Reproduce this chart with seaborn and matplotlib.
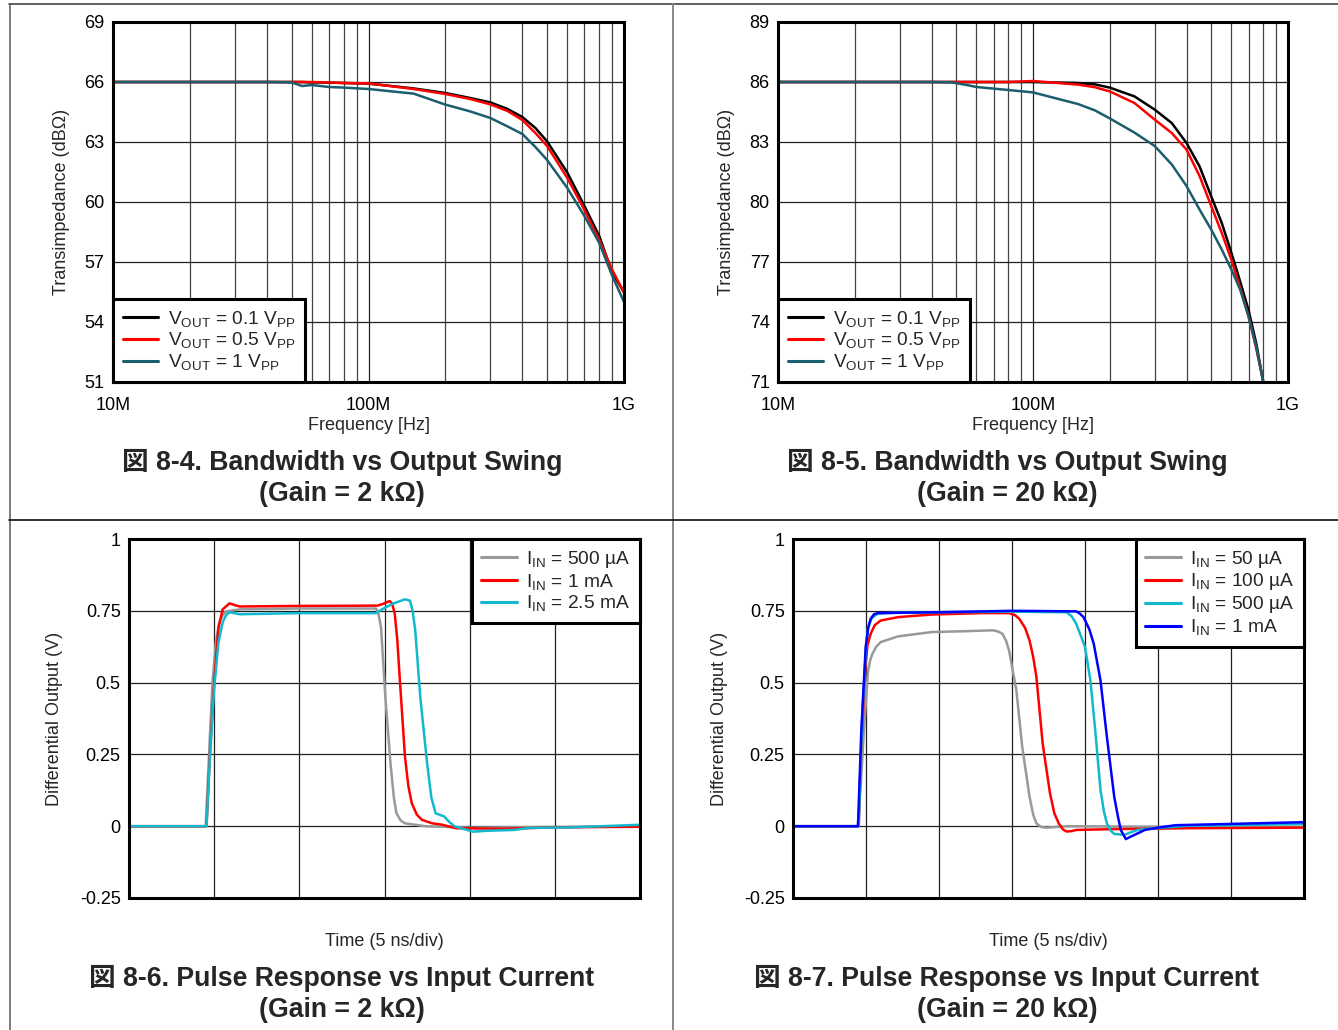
import numpy as np
import pandas as pd
import matplotlib
matplotlib.use("Agg")
import matplotlib.pyplot as plt
import seaborn as sns
from matplotlib.lines import Line2D
from matplotlib.ticker import LogLocator, NullFormatter, FixedLocator

# ---------------- data ----------------
# Panel 8-4 (Gain = 2 kOhm), frequency in MHz, transimpedance in dBOhm
freq_a = [10, 20, 30, 40, 50, 55, 60, 70, 80, 100, 150, 200, 250, 300, 350, 400, 450, 500, 600, 700, 800, 900, 1000]
zt_a_01 = [66, 66, 66, 66, 66, 66, 65.98, 65.97, 65.95, 65.92, 65.68, 65.45, 65.2, 64.98, 64.65, 64.25, 63.7, 63.03, 61.47, 59.8, 58.3, 56.45, 55.5]
zt_a_05 = [66, 66, 66, 66, 66, 66, 66.0, 65.98, 65.95, 65.93, 65.65, 65.4, 65.15, 64.88, 64.55, 64.1, 63.45, 62.8, 61.2, 59.6, 58.1, 56.6, 55.45]
zt_a_1 = [66, 66, 66, 66, 65.98, 65.8, 65.85, 65.75, 65.72, 65.65, 65.42, 64.87, 64.53, 64.2, 63.78, 63.4, 62.75, 62.1, 60.7, 59.3, 57.95, 56.3, 55.0]

# Panel 8-5 (Gain = 20 kOhm)
freq_b = [10, 20, 30, 40, 48, 55, 60, 70, 80, 100, 150, 175, 200, 250, 300, 350, 400, 450, 500, 550, 600, 650, 700, 750, 800]
zt_b_01 = [86, 86, 86, 86, 86, 86, 86, 86, 86, 86.0, 85.95, 85.88, 85.72, 85.28, 84.62, 83.95, 82.95, 81.78, 80.28, 78.95, 77.45, 76.0, 74.6, 72.95, 71.0]
zt_b_05 = [86, 86, 86, 86, 86, 86, 86, 86, 86, 86.05, 85.87, 85.74, 85.53, 84.95, 84.12, 83.45, 82.62, 81.3, 79.8, 78.45, 77.1, 75.7, 74.3, 72.7, 71.0]
zt_b_1 = [86, 86, 86, 86, 85.98, 85.85, 85.75, 85.67, 85.6, 85.48, 84.9, 84.58, 84.18, 83.47, 82.8, 81.88, 80.8, 79.62, 78.62, 77.62, 76.62, 75.6, 74.28, 72.78, 71.0]

freq_ticks = [10, 100, 1000]
freq_ticklabels = ["10M", "100M", "1G"]

# Panel 8-6 (Gain = 2 kOhm), time in ns, output in V
t_c_500u = [0, 4.5, 4.7, 4.9, 5.1, 5.3, 5.5, 5.7, 6.5, 10, 14.5, 14.65, 14.8, 15.05, 15.35, 15.55, 15.7, 15.95, 16.2, 17.4, 20, 25, 30]
v_c_500u = [0, 0, 0.25, 0.5, 0.64, 0.71, 0.735, 0.748, 0.755, 0.758, 0.758, 0.74, 0.69, 0.45, 0.22, 0.1, 0.045, 0.02, 0.01, 0.0, -0.005, -0.003, 0.0]
t_c_1m = [0, 4.55, 4.75, 5.0, 5.25, 5.5, 5.9, 6.2, 6.5, 10, 14.6, 15.0, 15.3, 15.45, 15.6, 15.75, 15.9, 16.2, 16.4, 16.6, 16.9, 17.2, 17.8, 18.4, 19.2, 22, 25, 30]
v_c_1m = [0, 0, 0.25, 0.5, 0.69, 0.755, 0.776, 0.77, 0.765, 0.767, 0.768, 0.776, 0.784, 0.775, 0.74, 0.65, 0.51, 0.243, 0.14, 0.08, 0.04, 0.022, 0.01, 0.005, -0.007, -0.009, -0.004, -0.002]
t_c_2m5 = [0, 4.55, 4.75, 5.0, 5.25, 5.5, 5.7, 5.9, 6.5, 10, 14.5, 15.0, 15.5, 16.2, 16.5, 16.65, 16.8, 17.1, 17.5, 17.75, 18.0, 18.5, 18.8, 19.1, 20.2, 21, 22.6, 23.5, 26, 30]
v_c_2m5 = [0, 0, 0.24, 0.48, 0.64, 0.71, 0.735, 0.745, 0.738, 0.742, 0.742, 0.76, 0.775, 0.79, 0.785, 0.75, 0.685, 0.45, 0.22, 0.1, 0.045, 0.034, 0.015, 0.0, -0.019, -0.016, -0.013, -0.006, -0.004, 0.005]

# Panel 8-7 (Gain = 20 kOhm)
t_d_50u = [0, 4.44, 4.65, 4.86, 5.14, 5.3, 5.44, 5.7, 6.0, 7.2, 9.5, 11.8, 13.66, 14.0, 14.35, 14.6, 14.8, 15.3, 15.7, 16.2, 16.45, 16.67, 17.0, 17.4, 18.75, 25, 35]
v_d_50u = [0, 0, 0.15, 0.334, 0.54, 0.58, 0.60, 0.625, 0.641, 0.661, 0.676, 0.679, 0.682, 0.679, 0.67, 0.645, 0.612, 0.473, 0.277, 0.103, 0.04, 0.01, -0.003, -0.005, 0, -0.002, -0.002]
t_d_100u = [0, 4.5, 4.63, 4.93, 5.1, 5.32, 5.6, 6.0, 7.2, 9.5, 13.0, 14.8, 15.2, 15.5, 15.9, 16.2, 16.45, 16.67, 17.1, 17.6, 17.9, 18.2, 18.5, 18.75, 19.1, 19.4, 22.2, 27, 35]
v_d_100u = [0, 0, 0.22, 0.54, 0.63, 0.67, 0.70, 0.716, 0.728, 0.737, 0.742, 0.742, 0.735, 0.722, 0.69, 0.647, 0.59, 0.52, 0.288, 0.115, 0.045, 0.01, -0.012, -0.0185, -0.017, -0.013, -0.01, -0.007, -0.005]
t_d_500u = [0, 4.5, 4.75, 5.0, 5.14, 5.4, 5.8, 7, 10, 15, 18.75, 19.1, 19.4, 20.0, 20.37, 20.7, 21.06, 21.3, 21.5, 21.75, 22.0, 22.7, 23.1, 23.6, 24.5, 26.9, 35]
v_d_500u = [0, 0, 0.39, 0.62, 0.693, 0.725, 0.74, 0.743, 0.745, 0.747, 0.745, 0.73, 0.705, 0.624, 0.508, 0.334, 0.126, 0.05, 0.01, -0.015, -0.027, -0.03, -0.022, -0.013, -0.008, 0.001, 0.008]
t_d_1m = [0, 4.45, 4.68, 4.98, 5.15, 5.32, 5.55, 5.8, 7, 10, 15, 19.4, 19.65, 19.9, 20.3, 20.6, 21.06, 21.5, 22.0, 22.25, 22.45, 22.8, 23.1, 23.4, 24.1, 25, 26.2, 29.2, 35]
v_d_1m = [0, 0, 0.334, 0.624, 0.69, 0.722, 0.738, 0.742, 0.743, 0.745, 0.75, 0.748, 0.74, 0.728, 0.685, 0.635, 0.508, 0.311, 0.103, 0.035, -0.013, -0.045, -0.037, -0.03, -0.013, -0.005, 0.0035, 0.007, 0.014]

v_ticks = [-0.25, 0, 0.25, 0.5, 0.75, 1]
v_ticklabels = ["-0.25", "0", "0.25", "0.5", "0.75", "1"]

labels_bw = [r"V$_\mathregular{OUT}$ = 0.1 V$_\mathregular{PP}$",
             r"V$_\mathregular{OUT}$ = 0.5 V$_\mathregular{PP}$",
             r"V$_\mathregular{OUT}$ = 1 V$_\mathregular{PP}$"]
labels_c = [r"I$_\mathregular{IN}$ = 500 µA", r"I$_\mathregular{IN}$ = 1 mA", r"I$_\mathregular{IN}$ = 2.5 mA"]
labels_d = [r"I$_\mathregular{IN}$ = 50 µA", r"I$_\mathregular{IN}$ = 100 µA",
            r"I$_\mathregular{IN}$ = 500 µA", r"I$_\mathregular{IN}$ = 1 mA"]

BLACK, RED, TEAL = "#000000", "#ff0000", "#1b5e6e"
GRAY, CYAN, BLUE = "#999999", "#12b8cc", "#0000ff"

# ---------------- style ----------------
sns.set_theme(style="white")
plt.rcParams["font.family"] = ["Liberation Sans", "Noto Sans CJK JP", "DejaVu Sans"]
plt.rcParams["mathtext.fontset"] = "custom"
plt.rcParams["mathtext.rm"] = "Liberation Sans"
plt.rcParams["mathtext.it"] = "Liberation Sans"

W, H = 1338, 1030
fig = plt.figure(figsize=(W / 100, H / 100), dpi=100)


def rect(x0, y0, x1, y1):
    return [x0 / W, 1 - y1 / H, (x1 - x0) / W, (y1 - y0) / H]


FS = 13
LFS = 13.8
LW = 1.8


def frame(ax):
    for s in ax.spines.values():
        s.set_visible(True)
        s.set_color("black")
        s.set_linewidth(2.2)
    ax.tick_params(axis="both", which="both", length=0, labelsize=FS, colors="black")
    ax.tick_params(axis="y", pad=6)
    ax.tick_params(axis="x", pad=11)
    ax.set_axisbelow(True)


def legend(ax, loc):
    lg = ax.legend(loc=loc, borderaxespad=0, fancybox=False, framealpha=1,
                   edgecolor="black", fontsize=LFS, handlelength=1.85,
                   handletextpad=0.5, labelspacing=0.1, borderpad=0.5)
    lg.get_frame().set_linewidth(2.2)
    for h in lg.get_lines():
        h.set_linewidth(2.2)
    return lg


def bw_panel(ax, freq, series, labels, colors, ylim):
    for vals, lab, col in zip(series, labels, colors):
        df = pd.DataFrame({"f": freq, "z": vals})
        sns.lineplot(data=df, x="f", y="z", ax=ax, color=col, linewidth=LW,
                     label=lab, sort=False, estimator=None)
    ax.set_xscale("log")
    ax.set_xlim(10, 1000)
    ax.set_ylim(*ylim)
    ax.set_yticks(np.arange(ylim[0], ylim[1] + 0.1, 3))
    ax.xaxis.set_major_locator(FixedLocator(freq_ticks))
    ax.set_xticklabels(freq_ticklabels)
    ax.xaxis.set_minor_locator(LogLocator(base=10, subs=range(2, 10)))
    ax.xaxis.set_minor_formatter(NullFormatter())
    ax.grid(True, which="major", axis="both", color="#202020", linewidth=0.9)
    ax.grid(True, which="minor", axis="x", color="#444444", linewidth=0.9)
    frame(ax)
    ax.set_xlabel("Frequency [Hz]", fontsize=FS, va="center")
    ax.set_ylabel("Transimpedance (dBΩ)", fontsize=FS, va="center", ha="center")
    ax.xaxis.set_label_coords(0.5, -(426 - 382) / 360)
    ax.yaxis.set_label_coords(-52 / 511, 0.5)
    legend(ax, "lower left")


def pulse_panel(ax, ts, vs, labels, colors, tmax, ylx):
    for t, v, lab, col in zip(ts, vs, labels, colors):
        df = pd.DataFrame({"t": t, "v": v})
        sns.lineplot(data=df, x="t", y="v", ax=ax, color=col, linewidth=LW,
                     label=lab, sort=False, estimator=None)
    ax.set_xlim(0, tmax)
    ax.set_ylim(-0.25, 1)
    ax.set_yticks(v_ticks)
    ax.set_yticklabels(v_ticklabels)
    ax.set_xticks(np.arange(5, tmax, 5))
    ax.set_xticklabels([])
    ax.grid(True, which="major", axis="both", color="#202020", linewidth=0.9)
    frame(ax)
    ax.set_xlabel("Time (5 ns/div)", fontsize=FS, va="center")
    ax.set_ylabel("Differential Output (V)", fontsize=FS, va="center", ha="center")
    ax.xaxis.set_label_coords(0.5, -(941 - 898) / 359)
    ax.yaxis.set_label_coords(ylx, 0.5)
    legend(ax, "upper right")


ax1 = fig.add_axes(rect(113, 22, 624, 382))
bw_panel(ax1, freq_a, [zt_a_01, zt_a_05, zt_a_1], labels_bw, [BLACK, RED, TEAL], (51, 69))

ax2 = fig.add_axes(rect(778, 22, 1288, 382))
bw_panel(ax2, freq_b, [zt_b_01, zt_b_05, zt_b_1], labels_bw, [BLACK, RED, TEAL], (71, 89))

ax3 = fig.add_axes(rect(129, 539, 640, 898))
pulse_panel(ax3, [t_c_500u, t_c_1m, t_c_2m5], [v_c_500u, v_c_1m, v_c_2m5],
            labels_c, [GRAY, RED, CYAN], 30, -(129 - 55) / 511)

ax4 = fig.add_axes(rect(793, 539, 1304, 898))
pulse_panel(ax4, [t_d_50u, t_d_100u, t_d_500u, t_d_1m], [v_d_50u, v_d_100u, v_d_500u, v_d_1m],
            labels_d, [GRAY, RED, CYAN, BLUE], 35, -(793 - 720) / 511)

# ---------------- captions ----------------
TFS = 19.2
caps = [
    (342, 462, "図 8-4. Bandwidth vs Output Swing"), (342, 494, "(Gain = 2 kΩ)"),
    (1007, 462, "図 8-5. Bandwidth vs Output Swing"), (1007, 494, "(Gain = 20 kΩ)"),
    (342, 978, "図 8-6. Pulse Response vs Input Current"), (342, 1010, "(Gain = 2 kΩ)"),
    (1007, 978, "図 8-7. Pulse Response vs Input Current"), (1007, 1010, "(Gain = 20 kΩ)"),
]
for x, y, s in caps:
    fig.text(x / W, 1 - y / H, s, ha="center", va="center", fontsize=TFS, fontweight="bold")

# ---------------- cell borders ----------------
def fline(x0, y0, x1, y1, color, lw):
    fig.add_artist(Line2D([x0 / W, x1 / W], [1 - y0 / H, 1 - y1 / H],
                          transform=fig.transFigure, color=color, linewidth=lw))

fline(9, 4, W, 4, "#444444", 1.2)
fline(9.5, 4, 9.5, H, "#666666", 1.2)
fline(673.5, 4, 673.5, H, "#888888", 1.4)
fline(9, 520, W, 520, "#111111", 1.2)

fig.savefig("out.png", dpi=100)
